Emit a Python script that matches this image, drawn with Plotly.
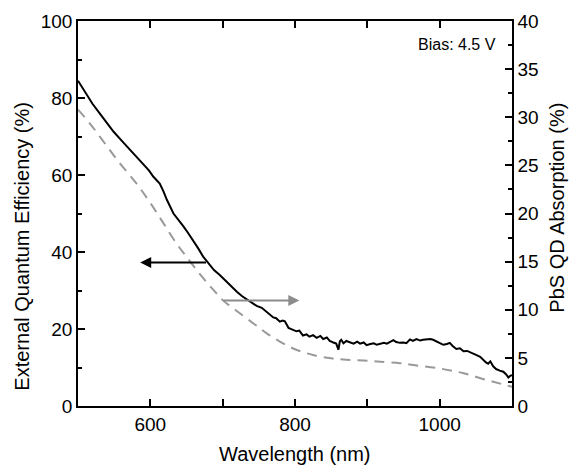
import plotly.graph_objects as go

# EQE (left axis, %)
eqe_wl = [500, 505, 510, 515, 520, 530, 540, 549, 560, 570, 577, 590, 598, 604, 613, 618, 623, 632,
          640, 646, 652, 659, 666, 673, 680, 688, 696, 704, 712, 720, 727, 734, 740, 747, 754, 760,
          766, 770, 774, 779, 783, 786, 791, 796, 802, 806, 811, 816, 820, 825, 830, 835, 839, 844,
          848, 853, 857, 860, 862, 864, 867, 871, 876, 881, 886, 890, 895, 899, 904, 909, 913, 918,
          923, 927, 932, 936, 940, 945, 950, 954, 959, 963, 968, 973, 977, 982, 987, 991, 996, 1000,
          1005, 1010, 1014, 1018, 1023, 1028, 1033, 1038, 1042, 1047, 1051, 1056, 1060, 1064, 1067,
          1070, 1074, 1078, 1083, 1088, 1092, 1095, 1098, 1100]
eqe_val = [84.5, 83.0, 81.5, 80.0, 78.5, 76.0, 73.5, 71.3, 69.0, 67.0, 65.6, 63.0, 61.2, 59.6, 57.8,
           55.8, 53.5, 50.0, 48.2, 46.6, 45.0, 43.1, 41.0, 38.8, 37.2, 35.3, 34.0, 32.5, 31.0, 29.6,
           28.5, 27.6, 26.8, 26.0, 25.5, 24.6, 23.8, 23.0, 22.8, 21.9, 22.2, 22.0, 20.3, 19.8, 19.4,
           19.6, 18.3, 18.6, 18.0, 18.4, 17.7, 18.2, 17.4, 17.8, 16.9, 16.5, 16.2, 14.6, 16.8, 17.2,
           16.3, 16.9, 16.6, 16.2, 16.7, 16.2, 16.5, 15.8, 16.1, 16.3, 15.9, 16.2, 16.4, 16.2, 16.6,
           17.1, 16.6, 16.4, 16.5, 16.3, 17.3, 16.9, 17.4, 17.0, 17.2, 17.3, 17.4, 17.2, 16.8, 16.3,
           15.9, 16.1, 16.4, 15.6, 14.8, 15.0, 14.2, 14.3, 14.0, 13.7, 13.2, 12.8, 12.0, 11.3, 11.0,
           11.6, 10.3, 9.6, 9.2, 8.9, 8.2, 7.4, 7.9, 8.0]

# PbS QD absorption (right axis, %)
abs_wl = [500, 516, 537, 558, 581, 600, 618, 636, 650, 674, 689, 700, 719, 744, 760, 779, 800, 825,
          850, 871, 900, 918, 945, 964, 1000, 1033, 1065, 1085, 1100]
abs_val = [30.8, 29.4, 27.3, 25.2, 23.1, 21.1, 19.0, 16.9, 15.5, 13.2, 11.9, 11.0, 9.9, 8.5, 7.6,
           6.7, 5.9, 5.3, 4.95, 4.8, 4.7, 4.6, 4.45, 4.25, 3.9, 3.4, 2.7, 2.3, 2.0]

x_ticks = [600, 800, 1000]
y_left_ticks = [0, 20, 40, 60, 80, 100]
y_right_ticks = [0, 5, 10, 15, 20, 25, 30, 35, 40]

x_title = "Wavelength (nm)"
y_left_title = "External Quantum Efficiency (%)"
y_right_title = "PbS QD Absorption (%)"
bias_label = "Bias: 4.5 V"

# arrows (data coordinates)
black_arrow = dict(x_from=679, x_to=586, y=37.3)
gray_arrow = dict(x_from=699, x_to=806, y=10.95)

FONT = "Liberation Sans, Arial, sans-serif"
TICKFONT = dict(size=19, color="black", family=FONT)
TITLEFONT = dict(size=20, color="black", family=FONT)

fig = go.Figure()
fig.add_trace(go.Scatter(x=abs_wl, y=abs_val, mode="lines", yaxis="y2",
                         line=dict(color="#999999", width=2, dash="10px,7px"),
                         line_shape="spline", showlegend=False))
fig.add_trace(go.Scatter(x=eqe_wl, y=eqe_val, mode="lines",
                         line=dict(color="black", width=2), showlegend=False))

fig.add_annotation(x=black_arrow["x_to"], y=black_arrow["y"], ax=black_arrow["x_from"],
                   ay=black_arrow["y"], xref="x", yref="y", axref="x", ayref="y",
                   text="", showarrow=True, arrowhead=2, arrowsize=1.1, arrowwidth=2,
                   arrowcolor="black")
fig.add_annotation(x=gray_arrow["x_to"], y=gray_arrow["y"], ax=gray_arrow["x_from"],
                   ay=gray_arrow["y"], xref="x", yref="y2", axref="x", ayref="y2",
                   text="", showarrow=True, arrowhead=2, arrowsize=1.1, arrowwidth=2,
                   arrowcolor="#8c8c8c")
fig.add_annotation(x=0.968, y=0.938, xref="paper", yref="paper", text=bias_label,
                   showarrow=False, xanchor="right", yanchor="middle",
                   font=dict(size=16, color="black", family=FONT))

# axis titles as annotations (positioned like the reference)
fig.add_annotation(x=0.5, y=-0.125, xref="paper", yref="paper", text=x_title, showarrow=False,
                   xanchor="center", yanchor="middle", font=TITLEFONT)
fig.add_annotation(x=-0.128, y=0.415, xref="paper", yref="paper", text=y_left_title,
                   showarrow=False, textangle=-90, xanchor="center", yanchor="middle",
                   font=TITLEFONT)
fig.add_annotation(x=1.105, y=0.514, xref="paper", yref="paper", text=y_right_title,
                   showarrow=False, textangle=-90, xanchor="center", yanchor="middle",
                   font=TITLEFONT)

axis_common = dict(showline=True, linecolor="black", linewidth=1.5, ticks="inside",
                   ticklen=7, tickwidth=1.5, tickcolor="black", showgrid=False, zeroline=False,
                   tickfont=TICKFONT, automargin=False)

fig.update_layout(
    width=569, height=470,
    margin=dict(l=78, r=57, t=21, b=64, autoexpand=False),
    plot_bgcolor="white", paper_bgcolor="white",
    font=dict(family=FONT, color="black"),
    xaxis=dict(range=[500, 1100], tickvals=x_ticks, mirror="allticks",
               minor=dict(tickvals=[700, 900], ticks="inside", ticklen=4, tickcolor="black",
                          tickwidth=1.5),
               **axis_common),
    yaxis=dict(range=[0, 100], tickvals=y_left_ticks,
               minor=dict(tickvals=[10, 30, 50, 70, 90], ticks="inside", ticklen=4,
                          tickcolor="black", tickwidth=1.5),
               **axis_common),
    yaxis2=dict(range=[0, 40], tickvals=y_right_ticks, overlaying="y", side="right",
                minor=dict(tickvals=[2.5, 7.5, 12.5, 17.5, 22.5, 27.5, 32.5, 37.5], ticks="inside",
                           ticklen=4, tickcolor="black", tickwidth=1.5),
                **axis_common),
)

fig.write_html("out.html", config={"displayModeBar": False},
               post_script="document.body.style.margin='0';document.body.style.overflow='hidden';")
